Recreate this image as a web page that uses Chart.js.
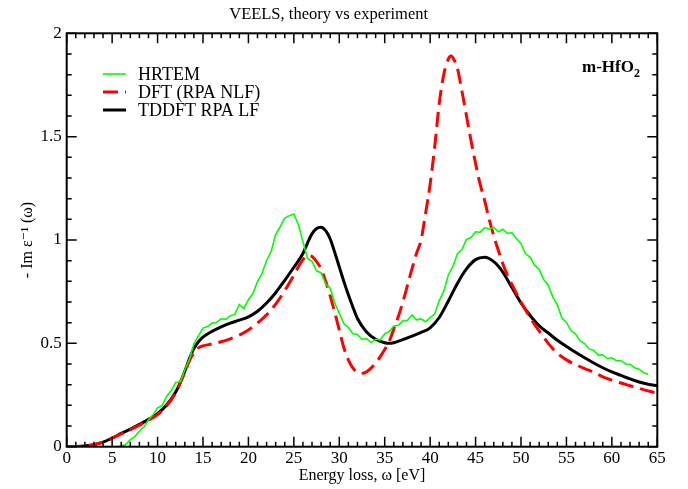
<!DOCTYPE html>
<html>
<head>
<meta charset="utf-8">
<script src="https://cdn.jsdelivr.net/npm/chart.js@4"></script>
<style>
  body { margin: 0; background: #fff; }
  #wrap { width: 688px; height: 489px; }
</style>
</head>
<body>
<div id="wrap"><canvas id="veels" width="688" height="489"></canvas></div>
<script>
// HRTEM experiment (noisy measured curve)
const hrtemE = [5.5, 6, 6.5, 7, 7.5, 8, 8.5, 9, 9.5, 10, 10.5, 11, 11.5, 12, 12.5, 13, 13.5, 14, 14.5, 15,
  15.5, 16, 16.5, 17, 17.5, 18, 18.5, 19, 19.5, 20, 20.5, 21, 21.5, 22, 22.5, 23, 23.5, 24, 24.5, 25,
  25.5, 26, 26.5, 27, 27.5, 28, 28.5, 29, 29.5, 30, 30.5, 31, 31.5, 32, 32.5, 33, 33.5, 34, 34.5, 35,
  35.5, 36, 36.5, 37, 37.5, 38, 38.5, 39, 39.5, 40, 40.5, 41, 41.5, 42, 42.5, 43, 43.5, 44, 44.5, 45,
  45.5, 46, 46.5, 47, 47.5, 48, 48.5, 49, 49.5, 50, 50.5, 51, 51.5, 52, 52.5, 53, 53.5, 54, 54.5, 55,
  55.5, 56, 56.5, 57, 57.5, 58, 58.5, 59, 59.5, 60, 60.5, 61, 61.5, 62, 62.5, 63, 63.5, 64];
const hrtemLoss = [0.000, 0.003, 0.010, 0.034, 0.049, 0.076, 0.095, 0.131, 0.154, 0.188, 0.199, 0.244, 0.271, 0.311, 0.314, 0.371, 0.423, 0.498, 0.536, 0.574,
  0.581, 0.598, 0.601, 0.619, 0.616, 0.634, 0.640, 0.688, 0.668, 0.711, 0.742, 0.799, 0.838, 0.901, 0.944, 1.028, 1.064, 1.106, 1.118, 1.126,
  1.074, 0.992, 0.911, 0.897, 0.851, 0.841, 0.788, 0.767, 0.695, 0.645, 0.596, 0.577, 0.546, 0.543, 0.519, 0.523, 0.504, 0.520, 0.517, 0.546,
  0.557, 0.584, 0.587, 0.610, 0.612, 0.637, 0.614, 0.618, 0.604, 0.624, 0.642, 0.707, 0.751, 0.831, 0.872, 0.933, 0.954, 1.003, 1.012, 1.040,
  1.037, 1.060, 1.052, 1.062, 1.040, 1.052, 1.032, 1.035, 1.006, 0.982, 0.933, 0.917, 0.878, 0.857, 0.808, 0.781, 0.724, 0.686, 0.622, 0.601,
  0.562, 0.546, 0.512, 0.499, 0.473, 0.466, 0.443, 0.445, 0.427, 0.430, 0.416, 0.416, 0.400, 0.399, 0.382, 0.375, 0.358, 0.350];

// DFT (RPA NLF)
const dftE = [0, 1, 2, 3, 4, 5, 6, 7, 8, 9, 10, 11, 12, 12.5, 13, 13.5, 14, 14.5, 15, 16, 17, 18, 19, 20, 21, 22, 23, 24, 25, 25.5,
  26, 26.5, 27, 27.5, 28, 28.5, 29, 29.5, 30, 30.5, 31, 31.5, 32, 32.5, 33, 33.5, 34, 34.5, 35, 35.5, 36, 36.5, 37, 37.5, 38, 38.5,
  39, 39.5, 40, 40.5, 41, 41.5, 42, 42.3, 42.6, 43, 43.5, 44, 44.5, 45, 45.5, 46, 46.5, 47, 47.5, 48, 48.5, 49, 50, 51, 52, 53,
  54, 55, 56, 57, 58, 59, 60, 61, 62, 63, 64, 65];
const dftLoss = [0, 0.001, 0.004, 0.010, 0.022, 0.041, 0.062, 0.082, 0.104, 0.128, 0.155, 0.198, 0.262, 0.31, 0.36, 0.415, 0.455, 0.478, 0.488, 0.497, 0.508, 0.522, 0.540, 0.565, 0.598, 0.638, 0.69, 0.755, 0.83, 0.87,
  0.905, 0.925, 0.92, 0.895, 0.86, 0.80, 0.73, 0.65, 0.565, 0.48, 0.42, 0.38, 0.36, 0.355, 0.362, 0.38, 0.405, 0.435, 0.47, 0.51, 0.57, 0.63, 0.70, 0.78, 0.86, 0.935,
  1.00, 1.13, 1.27, 1.45, 1.66, 1.80, 1.875, 1.89, 1.875, 1.83, 1.72, 1.60, 1.48, 1.37, 1.27, 1.19, 1.10, 1.02, 0.95, 0.885, 0.83, 0.785, 0.70, 0.625, 0.56, 0.50,
  0.452, 0.42, 0.398, 0.378, 0.36, 0.338, 0.322, 0.308, 0.295, 0.282, 0.270, 0.258];

// TDDFT RPA LF
const tddftE = [0, 1, 2, 3, 4, 5, 6, 7, 8, 9, 10, 11, 12, 12.5, 13, 13.5, 14, 14.5, 15, 16, 17, 18, 19, 20, 21, 22, 23, 24, 25, 26,
  26.5, 27, 27.5, 28, 28.5, 29, 29.5, 30, 30.5, 31, 31.5, 32, 33, 34, 35, 35.5, 36, 37, 38, 39, 40, 41, 42, 43, 44, 45, 46, 47, 48, 49,
  50, 51, 52, 53, 54, 55, 56, 57, 58, 59, 60, 61, 62, 63, 64, 65];
const tddftLoss = [0, 0.001, 0.004, 0.010, 0.022, 0.042, 0.064, 0.085, 0.108, 0.132, 0.160, 0.202, 0.265, 0.31, 0.365, 0.425, 0.475, 0.508, 0.530, 0.558, 0.580, 0.598, 0.612, 0.628, 0.655, 0.695, 0.745, 0.805, 0.868, 0.935,
  0.985, 1.03, 1.056, 1.062, 1.045, 1.005, 0.94, 0.87, 0.80, 0.735, 0.675, 0.62, 0.555, 0.52, 0.503, 0.50, 0.503, 0.518, 0.535, 0.553, 0.575, 0.625, 0.705, 0.79, 0.86, 0.905, 0.916, 0.895, 0.845, 0.77,
  0.695, 0.635, 0.585, 0.55, 0.515, 0.485, 0.457, 0.43, 0.405, 0.382, 0.362, 0.345, 0.328, 0.313, 0.302, 0.296];

const xTicks = [0, 5, 10, 15, 20, 25, 30, 35, 40, 45, 50, 55, 60, 65];
const yTicks = [0, 0.5, 1, 1.5, 2];
const seriesNames = ['HRTEM', 'DFT (RPA NLF)', 'TDDFT RPA LF'];

const SERIF = "'Liberation Serif', 'DejaVu Serif', serif";

function toPoints(xs, ys) {
  return xs.map((x, i) => ({x: x, y: ys[i]}));
}

// frame, inward ticks on all four sides, legend box and material label
const decorations = {
  id: 'decorations',
  afterDraw(chart) {
    const ctx = chart.ctx;
    const a = chart.chartArea;
    const xs = chart.scales.x, ys = chart.scales.y;
    ctx.save();
    ctx.strokeStyle = '#000';
    ctx.lineWidth = 1.5;
    ctx.beginPath();
    for (let v = 0; v <= 65; v++) {
      const px = xs.getPixelForValue(v);
      const len = (v % 5 === 0) ? 10 : 5;
      ctx.moveTo(px, a.bottom); ctx.lineTo(px, a.bottom - len);
      ctx.moveTo(px, a.top); ctx.lineTo(px, a.top + len);
    }
    for (let k = 0; k <= 20; k++) {
      const py = ys.getPixelForValue(k / 10);
      const len = (k % 5 === 0) ? 10 : 5;
      ctx.moveTo(a.left, py); ctx.lineTo(a.left + len, py);
      ctx.moveTo(a.right, py); ctx.lineTo(a.right - len, py);
    }
    ctx.stroke();
    ctx.lineWidth = 2;
    ctx.strokeRect(a.left, a.top, a.right - a.left, a.bottom - a.top);

    // legend
    const rows = [74, 92, 110];
    chart.data.datasets.forEach((ds, i) => {
      ctx.beginPath();
      ctx.strokeStyle = ds.borderColor;
      ctx.lineWidth = ds.borderWidth;
      ctx.setLineDash(ds.borderDash || []);
      ctx.moveTo(103, rows[i]);
      ctx.lineTo(126, rows[i]);
      ctx.stroke();
    });
    ctx.setLineDash([]);
    ctx.fillStyle = '#000';
    ctx.font = '18px ' + SERIF;
    ctx.textBaseline = 'middle';
    ctx.textAlign = 'left';
    seriesNames.forEach((name, i) => ctx.fillText(name, 138, rows[i] + 1));

    // m-HfO2 label
    ctx.font = 'bold 17px ' + SERIF;
    ctx.textBaseline = 'alphabetic';
    const main = 'm-HfO';
    ctx.fillText(main, 582, 72);
    const w = ctx.measureText(main).width;
    ctx.font = 'bold 12px ' + SERIF;
    ctx.fillText('2', 582 + w, 77);
    ctx.restore();
  }
};

new Chart(document.getElementById('veels'), {
  type: 'line',
  data: {
    datasets: [
      {
        label: seriesNames[0],
        data: toPoints(hrtemE, hrtemLoss),
        borderColor: '#00ff00',
        borderWidth: 1.6,
        tension: 0,
        pointRadius: 0
      },
      {
        label: seriesNames[1],
        data: toPoints(dftE, dftLoss),
        borderColor: '#ff0000',
        borderWidth: 3,
        borderDash: [15, 7],
        cubicInterpolationMode: 'monotone',
        pointRadius: 0
      },
      {
        label: seriesNames[2],
        data: toPoints(tddftE, tddftLoss),
        borderColor: '#000000',
        borderWidth: 3,
        cubicInterpolationMode: 'monotone',
        pointRadius: 0
      }
    ]
  },
  options: {
    responsive: false,
    animation: false,
    layout: { padding: { left: 0, right: 30.7, top: 0, bottom: 0 } },
    plugins: {
      legend: { display: false },
      tooltip: { enabled: false },
      title: {
        display: true,
        text: 'VEELS, theory vs experiment',
        color: '#000',
        font: { family: SERIF, size: 16.5, weight: 'normal' },
        padding: { top: 5, bottom: 8.5 }
      }
    },
    scales: {
      x: {
        type: 'linear',
        min: 0,
        max: 65,
        afterFit: s => { s.height = 42.3; },
        afterBuildTicks: s => { s.ticks = xTicks.map(v => ({value: v})); },
        grid: { display: false, drawTicks: false },
        border: { display: false },
        ticks: {
          color: '#000',
          padding: 2,
          maxRotation: 0,
          font: { family: SERIF, size: 17 },
          callback: v => String(v)
        },
        title: {
          display: true,
          text: 'Energy loss, ω [eV]',
          color: '#000',
          font: { family: SERIF, size: 16 },
          padding: { top: 0, bottom: 3.4 }
        }
      },
      y: {
        type: 'linear',
        min: 0,
        max: 2,
        afterFit: s => { s.width = 66.7; },
        afterBuildTicks: s => { s.ticks = yTicks.map(v => ({value: v})); },
        grid: { display: false, drawTicks: false },
        border: { display: false },
        ticks: {
          color: '#000',
          padding: 5,
          font: { family: SERIF, size: 17 },
          callback: v => String(v)
        },
        title: {
          display: true,
          text: '- Im ε⁻¹ (ω)',
          color: '#000',
          font: { family: SERIF, size: 16 },
          padding: { top: 18.4, bottom: 0 }
        }
      }
    }
  },
  plugins: [decorations]
});
</script>
</body>
</html>
